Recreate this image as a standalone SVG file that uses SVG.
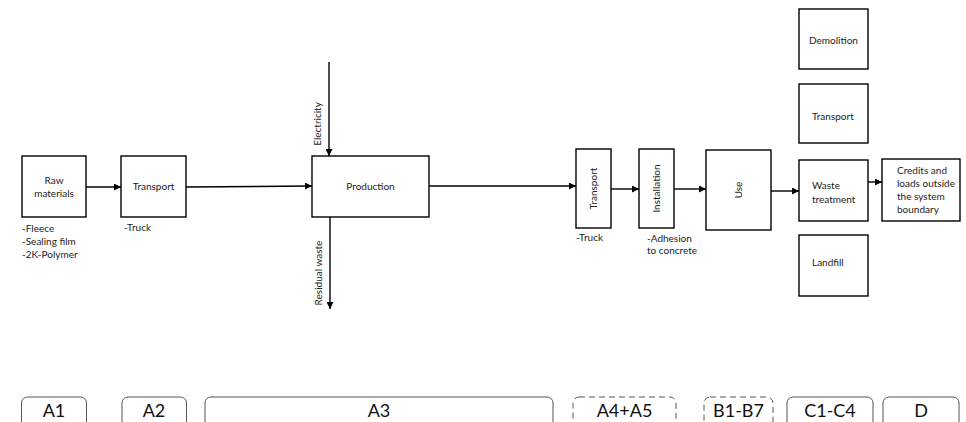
<svg xmlns="http://www.w3.org/2000/svg" width="966" height="422" viewBox="0 0 966 422">
<style>
.box{fill:#fff;stroke:#000;stroke-width:1.4}
.t{font-family:Lato,"Open Sans","Liberation Sans",sans-serif;font-size:10px;fill:#222}
.c{text-anchor:middle}
.ph{fill:#fff;stroke:#555;stroke-width:1}
.dash{stroke-dasharray:6,4}
.pt{font-family:Lato,"Open Sans","Liberation Sans",sans-serif;font-size:18px;fill:#111;text-anchor:middle}
.ln{fill:none;stroke:#000;stroke-width:1.4}
</style>
<defs>
<marker id="ah" viewBox="0 0 10 10" refX="10" refY="5" markerWidth="7" markerHeight="7" markerUnits="userSpaceOnUse" orient="auto">
<path d="M0,0 L10,5 L0,10 z" fill="#000"/>
</marker>
</defs>
<rect width="966" height="422" fill="#fff"/>
<g id="connectors">
<line class="ln" x1="86" y1="187" x2="121" y2="187" marker-end="url(#ah)"/>
<line class="ln" x1="186" y1="187" x2="312" y2="186" marker-end="url(#ah)"/>
<line class="ln" x1="329" y1="62" x2="329" y2="156" marker-end="url(#ah)"/>
<line class="ln" x1="330" y1="217" x2="330" y2="309" marker-end="url(#ah)"/>
<line class="ln" x1="429" y1="186" x2="576" y2="186" marker-end="url(#ah)"/>
<line class="ln" x1="611" y1="189" x2="639" y2="189" marker-end="url(#ah)"/>
<line class="ln" x1="674" y1="189" x2="706" y2="189" marker-end="url(#ah)"/>
<line class="ln" x1="771" y1="191" x2="799" y2="191" marker-end="url(#ah)"/>
<line class="ln" x1="868" y1="182" x2="882" y2="182" marker-end="url(#ah)"/>
</g>
<g id="raw-materials">
<rect class="box" x="22" y="156" width="64" height="61"/>
<text class="t c" x="54" y="184">Raw</text>
<text class="t c" x="54" y="197">materials</text>
<text class="t" x="22" y="232">-Fleece</text>
<text class="t" x="22" y="245">-Sealing film</text>
<text class="t" x="22" y="258">-2K-Polymer</text>
</g>
<g id="transport-a2">
<rect class="box" x="121" y="156" width="65" height="61"/>
<text class="t c" x="153.5" y="190">Transport</text>
<text class="t" x="124" y="231">-Truck</text>
</g>
<g id="production">
<rect class="box" x="312" y="156" width="117" height="61"/>
<text class="t c" x="370.5" y="190">Production</text>
</g>
<g id="electricity">
<text class="t c" transform="translate(321,124) rotate(-90)">Electricity</text>
</g>
<g id="residual-waste">
<text class="t c" transform="translate(322,273) rotate(-90)">Residual waste</text>
</g>
<g id="transport-a4">
<rect class="box" x="576" y="149" width="35" height="79"/>
<text class="t c" transform="translate(597,188.5) rotate(-90)">Transport</text>
<text class="t" x="576" y="241">-Truck</text>
</g>
<g id="installation">
<rect class="box" x="639" y="149" width="35" height="79"/>
<text class="t c" transform="translate(660,188.5) rotate(-90)">Installation</text>
<text class="t" x="647" y="242">-Adhesion</text>
<text class="t" x="647" y="254">to concrete</text>
</g>
<g id="use">
<rect class="box" x="706" y="150" width="65" height="80"/>
<text class="t c" transform="translate(742,190) rotate(-90)">Use</text>
</g>
<g id="demolition">
<rect class="box" x="799" y="9" width="69" height="60"/>
<text class="t" x="809" y="44">Demolition</text>
</g>
<g id="transport-c2">
<rect class="box" x="799" y="84" width="69" height="59"/>
<text class="t" x="812" y="120">Transport</text>
</g>
<g id="waste-treatment">
<rect class="box" x="799" y="160" width="69" height="61"/>
<text class="t" x="812" y="189">Waste</text>
<text class="t" x="812" y="203">treatment</text>
</g>
<g id="landfill">
<rect class="box" x="799" y="235" width="69" height="61"/>
<text class="t" x="812" y="266">Landfill</text>
</g>
<g id="credits">
<rect class="box" x="882" y="159" width="78" height="62"/>
<text class="t" x="897" y="174">Credits and</text>
<text class="t" x="897" y="187">loads outside</text>
<text class="t" x="897" y="200">the system</text>
<text class="t" x="897" y="213">boundary</text>
</g>
<g id="phase-a1">
<rect class="ph" x="21.5" y="397" width="65" height="40" rx="6"/>
<text class="pt" x="54" y="417">A1</text>
</g>
<g id="phase-a2">
<rect class="ph" x="122" y="397" width="64.5" height="40" rx="6"/>
<text class="pt" x="154" y="417">A2</text>
</g>
<g id="phase-a3">
<rect class="ph" x="205" y="397" width="348" height="40" rx="6"/>
<text class="pt" x="379" y="417">A3</text>
</g>
<g id="phase-a4a5">
<rect class="ph dash" x="573" y="397" width="103" height="40" rx="6"/>
<text class="pt" x="624.5" y="417">A4+A5</text>
</g>
<g id="phase-b">
<rect class="ph dash" x="704" y="397" width="69" height="40" rx="6"/>
<text class="pt" x="738.5" y="417">B1-B7</text>
</g>
<g id="phase-c">
<rect class="ph" x="787" y="397" width="86" height="40" rx="6"/>
<text class="pt" x="830" y="417">C1-C4</text>
</g>
<g id="phase-d">
<rect class="ph" x="883" y="397" width="76" height="40" rx="6"/>
<text class="pt" x="921" y="417">D</text>
</g>
</svg>
